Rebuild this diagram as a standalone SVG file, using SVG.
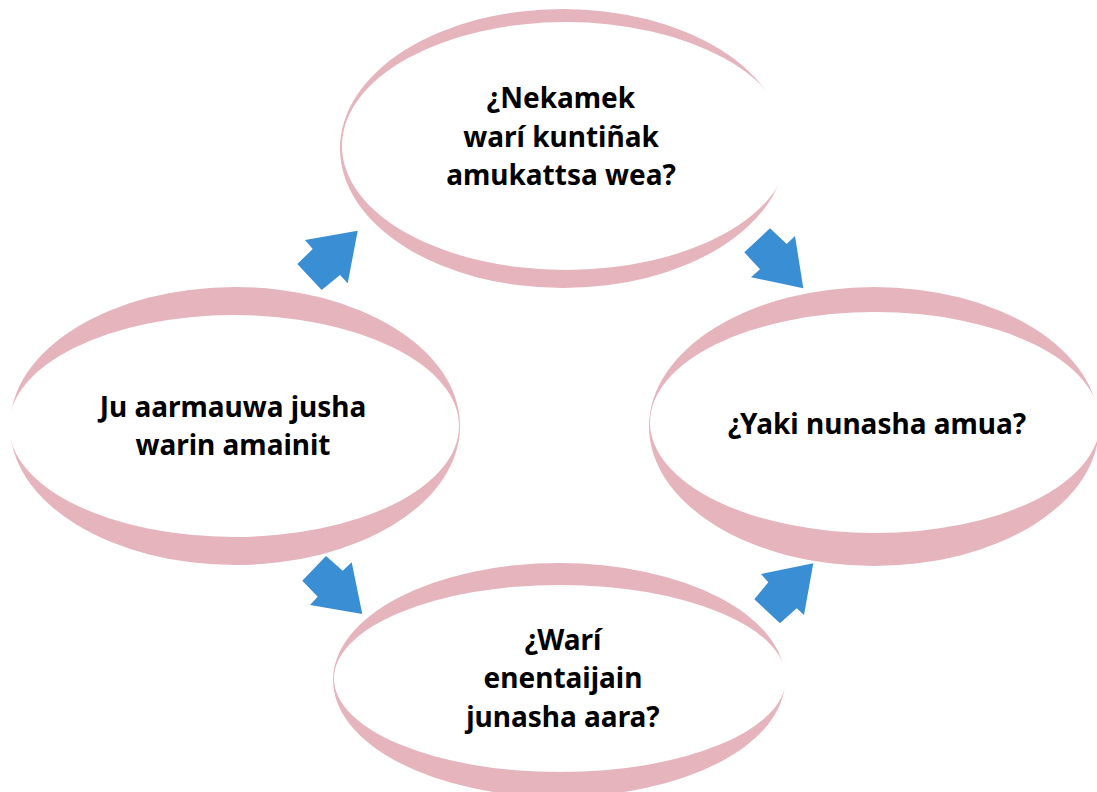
<svg xmlns="http://www.w3.org/2000/svg" width="1097" height="792" viewBox="0 0 1097 792">
<style>
.rim{fill:#E6B4BD;}
.face{fill:#FFFFFF;}
.lbl{font-family:"Noto Sans","Open Sans","Liberation Sans",sans-serif;font-weight:bold;font-size:28px;fill:#000;text-anchor:middle;}
.arr{fill:#3A8ED3;}
</style>
<rect width="1097" height="792" fill="#FFFFFF"/>
<g id="node-top">
<ellipse class="rim" cx="563" cy="148.5" rx="223" ry="139.5"/>
<ellipse class="face" cx="566" cy="146" rx="224" ry="124"/>
<text class="lbl" x="561" y="108">¿Nekamek</text>
<text class="lbl" x="561" y="147">warí kuntiñak</text>
<text class="lbl" x="561" y="185">amukattsa wea?</text>
</g>
<g id="node-left">
<ellipse class="rim" cx="235" cy="426" rx="225" ry="139"/>
<ellipse class="face" cx="234" cy="426" rx="225" ry="111"/>
<text class="lbl" x="233" y="417">Ju aarmauwa jusha</text>
<text class="lbl" x="233" y="455">warin amainit</text>
</g>
<g id="node-right">
<ellipse class="rim" cx="874" cy="426.5" rx="225" ry="139.5"/>
<ellipse class="face" cx="875" cy="422.5" rx="225" ry="110.5"/>
<text class="lbl" x="877" y="434">¿Yaki nunasha amua?</text>
</g>
<g id="node-bottom">
<ellipse class="rim" cx="559" cy="680" rx="226" ry="117"/>
<ellipse class="face" cx="560" cy="678.5" rx="226" ry="93.5"/>
<text class="lbl" x="563" y="650">¿Warí</text>
<text class="lbl" x="563" y="688">enentaijain</text>
<text class="lbl" x="563" y="727">junasha aara?</text>
</g>
<g id="connectors">
<polygon class="arr" points="357.7,230.7 305,240 312.7,249 297.3,264 321.7,290 340,275 347.7,283.3"/>
<polygon class="arr" points="803.3,288.3 795,236 786.7,244 770,228.3 744.3,252.3 760,269.3 751,277.3"/>
<polygon class="arr" points="362.3,614 351.7,562.3 342.7,570.7 326,556 302.3,580.7 317.7,596.7 310,605"/>
<polygon class="arr" points="813.3,563.3 761,574 768.3,582.3 754.3,599.3 780,623.3 796.7,608.3 804,615"/>
</g>
</svg>
